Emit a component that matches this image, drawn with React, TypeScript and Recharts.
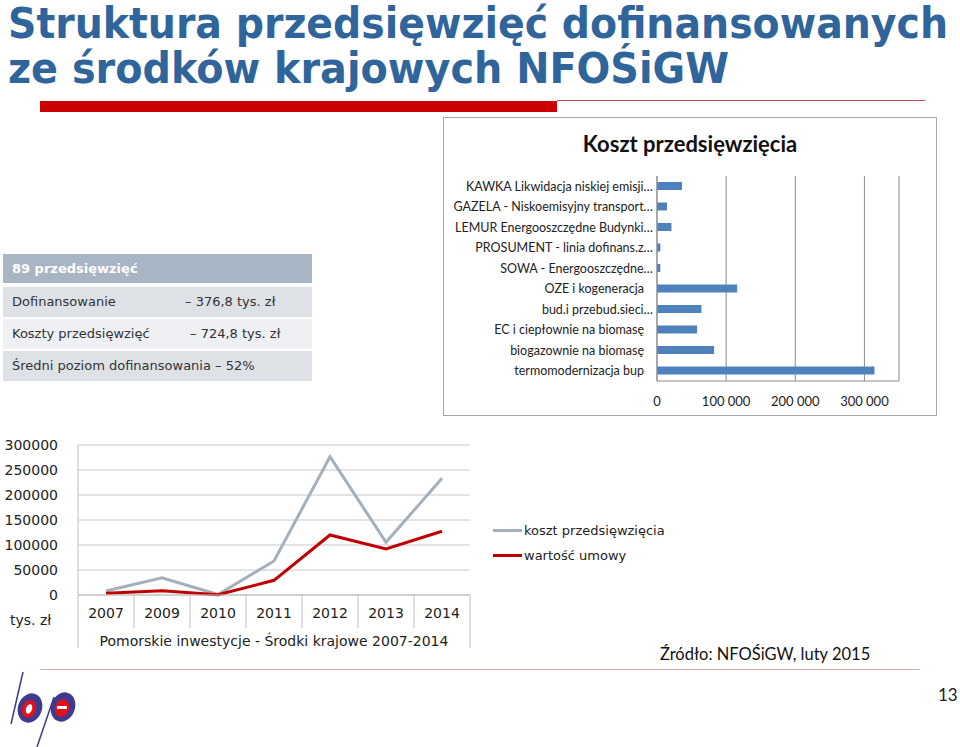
import React from "react";
import {
  Bar,
  BarChart,
  CartesianGrid,
  Label,
  Legend,
  Line,
  LineChart,
  XAxis,
  YAxis,
} from "recharts";

// --- bar chart: Koszt przedsięwzięcia ---
const programmes = [
  "KAWKA Likwidacja niskiej emisji…",
  "GAZELA - Niskoemisyjny transport…",
  "LEMUR Energooszczędne Budynki…",
  "PROSUMENT - linia dofinans.z…",
  "SOWA - Energooszczędne…",
  "OZE i kogeneracja",
  "bud.i przebud.sieci…",
  "EC i ciepłownie na biomasę",
  "biogazownie na biomasę",
  "termomodernizacja bup",
];
const programmeCost = [36200, 14500, 20900, 4900, 4800, 116000, 64300, 58000, 82600, 314500];
const costTicks = [0, 100000, 200000, 300000];

// --- line chart: Pomorskie inwestycje ---
const years = ["2007", "2009", "2010", "2011", "2012", "2013", "2014"];
const kosztPrzedsiewziecia = [8000, 34600, 1000, 68000, 276600, 105400, 233400];
const wartoscUmowy = [3500, 8600, 500, 29400, 120000, 92000, 127400];
const lineTicks = [0, 50000, 100000, 150000, 200000, 250000, 300000];

// --- summary table ---
const summaryRows = [
  { label: "Dofinansowanie", value: "– 376,8 tys. zł", indent: 185 },
  { label: "Koszty przedsięwzięć", value: "– 724,8 tys. zł", indent: 190 },
];

const barData = programmes.map((name, i) => ({ name, cost: programmeCost[i] }));
const lineData = years.map((year, i) => ({
  year,
  koszt: kosztPrzedsiewziecia[i],
  umowa: wartoscUmowy[i],
}));

const verdana = "'DejaVu Sans', Verdana, sans-serif";
const calibri = "Lato, 'Open Sans', sans-serif";

// line chart plot geometry
const LC_LEFT = 78;
const LC_PLOT_W = 392;
const CAT_W = LC_PLOT_W / years.length;

// title is squeezed horizontally (Tahoma-like look)
const TITLE_SX = 0.8;

const ProgrammeTick = ({ x, y, payload }: any) => {
  const s: string = payload.value;
  const off = s.endsWith("…") ? -4 : 5;
  return (
    <text x={x - off} y={y} dy={4.5} textAnchor="end" fontSize={12.5} fill="#222" fontFamily={calibri}>
      {s}
    </text>
  );
};

const YearTick = ({ x, y, payload, index }: any) => {
  const last = index === years.length - 1;
  return (
    <g>
      <line x1={x - CAT_W / 2} x2={x - CAT_W / 2} y1={y} y2={y + (index === 0 ? 53 : 33)} stroke="#bfbfbf" />
      {last && <line x1={x + CAT_W / 2} x2={x + CAT_W / 2} y1={y} y2={y + 53} stroke="#bfbfbf" />}
      <text x={x} y={y + 23} textAnchor="middle" fontSize={14} fill="#222" fontFamily={verdana}>
        {payload.value}
      </text>
    </g>
  );
};

const LineLegend = ({ payload }: any) => (
  <div>
    {(payload || []).map((p: any) => (
      <div key={p.value} style={{ display: "flex", alignItems: "center", height: 25 }}>
        <div style={{ width: 29, height: 3, background: p.color, marginRight: 2 }} />
        <span style={{ fontFamily: verdana, fontSize: 13, color: "#222" }}>{p.value}</span>
      </div>
    ))}
  </div>
);

const Logo = () => (
  <svg width={90} height={80} style={{ position: "absolute", left: 0, top: 667 }}>
    <line x1={23} y1={5} x2={11} y2={57} stroke="#3b3b8c" strokeWidth={1.5} />
    <line x1={54} y1={30} x2={37} y2={80} stroke="#3b3b8c" strokeWidth={1.5} />
    <ellipse cx={30} cy={41} rx={12} ry={15} transform="rotate(20 30 41)" fill="#3e3a8e" />
    <ellipse cx={29} cy={42} rx={7} ry={9} transform="rotate(20 29 42)" fill="#e0101c" />
    <ellipse cx={29} cy={42} rx={3} ry={5} transform="rotate(20 29 42)" fill="#fff" />
    <ellipse cx={63} cy={40} rx={12} ry={15} transform="rotate(20 63 40)" fill="#3e3a8e" />
    <ellipse cx={62} cy={41} rx={7} ry={9} transform="rotate(20 62 41)" fill="#e0101c" />
    <rect x={57} y={39} width={10} height={3} fill="#fff" />
  </svg>
);

export default function App() {
  return (
    <div
      style={{
        position: "absolute",
        left: 0,
        top: 0,
        width: 960,
        height: 747,
        background: "#fff",
        overflow: "hidden",
      }}
    >
      {/* title */}
      <svg width={960} height={100} style={{ position: "absolute", left: 0, top: 0 }}>
        <g transform={`scale(${TITLE_SX} 1)`}>
          <text
            x={8 / TITLE_SX}
            y={38}
            textLength={940 / TITLE_SX}
            lengthAdjust="spacingAndGlyphs"
            fontFamily={verdana}
            fontWeight="bold"
            fontSize={42}
            fill="#30659b"
          >
            Struktura przedsięwzięć dofinansowanych
          </text>
          <text
            x={8 / TITLE_SX}
            y={83}
            textLength={721 / TITLE_SX}
            lengthAdjust="spacingAndGlyphs"
            fontFamily={verdana}
            fontWeight="bold"
            fontSize={42}
            fill="#30659b"
          >
            ze środków krajowych NFOŚiGW
          </text>
        </g>
      </svg>
      <div style={{ position: "absolute", left: 40, top: 101, width: 517, height: 11, background: "#cc0000" }} />
      <div style={{ position: "absolute", left: 557, top: 100, width: 368, height: 1, background: "#c0504d" }} />

      {/* summary table */}
      <div style={{ position: "absolute", left: 3, top: 254, width: 309, fontFamily: verdana, fontSize: 13, color: "#333" }}>
        <div style={{ height: 29, background: "#a7b5c4", color: "#fff", fontWeight: "bold", lineHeight: "29px", paddingLeft: 9, marginBottom: 4 }}>
          89 przedsięwzięć
        </div>
        {summaryRows.map((r, i) => (
          <div
            key={r.label}
            style={{
              position: "relative",
              height: 30,
              lineHeight: "30px",
              paddingLeft: 9,
              marginBottom: 2,
              background: i % 2 === 0 ? "#dee2e7" : "#eef0f3",
            }}
          >
            {r.label}
            <span style={{ position: "absolute", left: r.indent - 3 }}>{r.value}</span>
          </div>
        ))}
        <div style={{ height: 30, lineHeight: "30px", paddingLeft: 9, background: "#dee2e7" }}>
          Średni poziom dofinansowania – 52%
        </div>
      </div>

      {/* bar chart panel */}
      <div
        style={{
          position: "absolute",
          left: 443,
          top: 117,
          width: 492,
          height: 297,
          border: "1px solid #a6a6a6",
        }}
      >
        <div
          style={{
            position: "absolute",
            left: 0,
            top: 12,
            width: 492,
            textAlign: "center",
            fontFamily: calibri,
            fontWeight: "bold",
            fontSize: 22,
            color: "#111",
          }}
        >
          Koszt przedsięwzięcia
        </div>
        <BarChart
          width={492}
          height={297}
          data={barData}
          layout="vertical"
          margin={{ top: 58, right: 37, bottom: 0, left: 0 }}
        >
          <CartesianGrid horizontal={false} stroke="#8c8c8c" />
          <XAxis
            type="number"
            domain={[0, 350000]}
            ticks={costTicks}
            height={34}
            axisLine={{ stroke: "#8c8c8c" }}
            tickLine={false}
            tick={{ fontSize: 13, fill: "#222", fontFamily: calibri }}
            tickFormatter={(v) => (v === 0 ? "0" : `${v / 1000} 000`)}
            tickMargin={10}
          />
          <YAxis
            type="category"
            dataKey="name"
            width={213}
            axisLine={{ stroke: "#8c8c8c" }}
            tickLine={false}
            tick={ProgrammeTick}
            interval={0}
          />
          <Bar dataKey="cost" fill="#4f81bd" barSize={8} isAnimationActive={false} />
        </BarChart>
      </div>

      {/* line chart */}
      <div style={{ position: "absolute", left: 0, top: 430 }}>
        <LineChart
          width={700}
          height={230}
          data={lineData}
          margin={{ top: 15, right: 700 - LC_LEFT - LC_PLOT_W, bottom: 0, left: 0 }}
        >
          <CartesianGrid vertical={false} stroke="#c8c8c8" />
          <XAxis
            dataKey="year"
            scale="band"
            height={65}
            axisLine={{ stroke: "#bfbfbf" }}
            tickLine={false}
            tickSize={0}
            tickMargin={0}
            tick={YearTick}
            interval={0}
          >
            <Label
              value="Pomorskie inwestycje - Środki krajowe 2007-2014"
              position="insideBottom"
              offset={14}
              style={{ fontFamily: verdana, fontSize: 14, fill: "#222" }}
            />
          </XAxis>
          <YAxis
            domain={[0, 300000]}
            ticks={lineTicks}
            width={LC_LEFT}
            axisLine={{ stroke: "#bfbfbf" }}
            tickLine={false}
            tickMargin={14}
            tick={{ fontSize: 14, fill: "#222", fontFamily: verdana }}
          />
          <Legend
            layout="vertical"
            verticalAlign="middle"
            align="center"
            wrapperStyle={{ position: "absolute", left: 493, top: 88, width: 200 }}
            content={LineLegend}
          />
          <Line
            type="linear"
            dataKey="koszt"
            name="koszt przedsięwzięcia"
            stroke="#a5b0bb"
            strokeWidth={3}
            dot={false}
            isAnimationActive={false}
          />
          <Line
            type="linear"
            dataKey="umowa"
            name="wartość umowy"
            stroke="#c00000"
            strokeWidth={3}
            dot={false}
            isAnimationActive={false}
          />
        </LineChart>
      </div>
      <div style={{ position: "absolute", left: 10, top: 612, fontFamily: verdana, fontSize: 14, color: "#222" }}>
        tys. zł
      </div>

      {/* footer */}
      <div style={{ position: "absolute", left: 660, top: 644, fontFamily: calibri, fontSize: 16.5, color: "#111" }}>
        Źródło: NFOŚiGW, luty 2015
      </div>
      <div style={{ position: "absolute", left: 40, top: 669, width: 880, height: 1, background: "#d8b0b0" }} />
      <Logo />
      <div style={{ position: "absolute", left: 938, top: 684, fontFamily: calibri, fontSize: 17, color: "#222" }}>
        13
      </div>
    </div>
  );
}
